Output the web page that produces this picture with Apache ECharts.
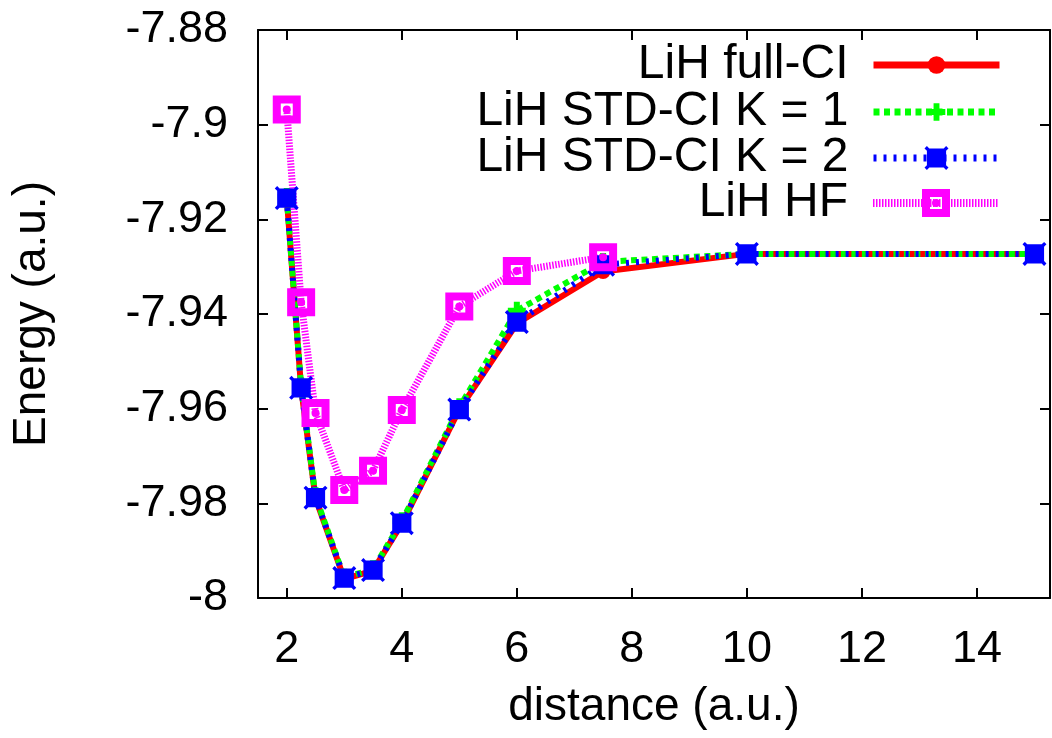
<!DOCTYPE html>
<html>
<head>
<meta charset="utf-8">
<script src="https://cdn.jsdelivr.net/npm/echarts@6/dist/echarts.min.js"></script>
<style>
  html, body { margin: 0; padding: 0; background: #fff; }
  #chart { width: 1052px; height: 738px; }
</style>
</head>
<body>
<div id="chart"></div>
<script>
// distances (a.u.)
const distance = [2, 2.25, 2.5, 3, 3.5, 4, 5, 6, 7.5, 10, 15]
const distanceHF = [2, 2.25, 2.5, 3, 3.5, 4, 5, 6, 7.5]

// energies (a.u.)
const fullCI = [-7.9155, -7.9557, -7.9789, -7.9960, -7.9942, -7.9843, -7.9602, -7.9420, -7.9310, -7.9273, -7.9273]
const stdK1 = [-7.9153, -7.9553, -7.9785, -7.9957, -7.9939, -7.9838, -7.9597, -7.9393, -7.9290, -7.9273, -7.9273]
const stdK2 = [-7.9155, -7.9556, -7.9788, -7.9958, -7.9941, -7.9842, -7.9602, -7.9417, -7.9296, -7.9273, -7.9273]
const hf = [-7.8968, -7.9375, -7.9609, -7.9772, -7.9731, -7.9603, -7.9384, -7.9309, -7.9280]

const xTicks = [2, 4, 6, 8, 10, 12, 14]
const yTicks = [-8, -7.98, -7.96, -7.94, -7.92, -7.9, -7.88]

const names = ['LiH full-CI', 'LiH STD-CI K = 1', 'LiH STD-CI K = 2', 'LiH HF']

const FONT = 'Liberation Sans'
const plusPath = 'path://M6 0 L12 0 L12 6 L18 6 L18 12 L12 12 L12 18 L6 18 L6 12 L0 12 L0 6 L6 6 Z'
const boxPath = 'path://M2 0 L4 2 L16 2 L18 0 L20 2 L18 4 L18 16 L20 18 L18 20 L16 18 L4 18 L2 20 L0 18 L2 16 L2 4 L0 2 Z'
const hfPath = 'path://M0 0 L28 0 L28 28 L0 28 Z M8 8 L8 20 L20 20 L20 8 Z M10 14 A4 4 0 1 1 18 14 A4 4 0 1 1 10 14 Z'

const pairs = (xs, ys) => xs.map((x, i) => [x, ys[i]])

const chart = echarts.init(document.getElementById('chart'))

const tickStyle = { show: true, inside: true, length: 10, lineStyle: { color: '#000', width: 2 } }
const lineAxis = { show: true, onZero: false, lineStyle: { color: '#000', width: 2 } }

function legendRow(name, top, h, line) {
  return {
    data: [name],
    right: 49,
    top: top,
    padding: 0,
    align: 'right',
    orient: 'vertical',
    itemWidth: 126,
    itemHeight: h,
    selectedMode: false,
    lineStyle: line,
    textStyle: { fontFamily: FONT, fontSize: 48, color: '#000', lineHeight: 48, padding: [0, 20, 0, 0] }
  }
}

chart.setOption({
  animation: false,
  backgroundColor: '#fff',
  grid: { left: 258, right: 2, top: 30, bottom: 140, containLabel: false },
  legend: [
    legendRow(names[0], 41, 22, { width: 7, type: 'solid' }),
    legendRow(names[1], 88, 22, { width: 7, type: [6, 4.5] }),
    legendRow(names[2], 134, 30, { width: 7, type: [3, 7] }),
    legendRow(names[3], 179, 35, { width: 8, type: [1.5, 1.5] })
  ],
  xAxis: [
    {
      type: 'value', min: 1.5, max: 15.27,
      name: 'distance (a.u.)', nameLocation: 'middle', nameGap: 86,
      nameTextStyle: { fontFamily: FONT, fontSize: 46, color: '#000' },
      axisLine: lineAxis,
      axisTick: Object.assign({ customValues: xTicks }, tickStyle),
      axisLabel: { customValues: xTicks, margin: 29, fontFamily: FONT, fontSize: 45, color: '#000' },
      splitLine: { show: false }
    },
    {
      type: 'value', min: 1.5, max: 15.27, position: 'top',
      axisLine: lineAxis,
      axisTick: Object.assign({ customValues: xTicks }, tickStyle),
      axisLabel: { show: false },
      splitLine: { show: false }
    }
  ],
  yAxis: [
    {
      type: 'value', min: -8, max: -7.88,
      name: 'Energy (a.u.)', nameLocation: 'middle', nameGap: 203, nameRotate: 90,
      nameTextStyle: { fontFamily: FONT, fontSize: 46, color: '#000' },
      axisLine: lineAxis,
      axisTick: Object.assign({ customValues: yTicks }, tickStyle),
      axisLabel: { customValues: yTicks, margin: 30, fontFamily: FONT, fontSize: 45, color: '#000' },
      splitLine: { show: false }
    },
    {
      type: 'value', min: -8, max: -7.88, position: 'right',
      axisLine: lineAxis,
      axisTick: Object.assign({ customValues: yTicks }, tickStyle),
      axisLabel: { show: false },
      splitLine: { show: false }
    }
  ],
  series: [
    {
      name: names[0], type: 'line', data: pairs(distance, fullCI),
      symbol: 'circle', symbolSize: 15,
      lineStyle: { color: '#ff0000', width: 6 },
      itemStyle: { color: '#ff0000' }
    },
    {
      name: names[1], type: 'line', data: pairs(distance, stdK1),
      symbol: plusPath, symbolSize: 18,
      lineStyle: { color: '#00ff00', width: 6, type: [6, 4.5] },
      itemStyle: { color: '#00ff00' }
    },
    {
      name: names[2], type: 'line', data: pairs(distance, stdK2),
      symbol: boxPath, symbolSize: 24,
      lineStyle: { color: '#0000ff', width: 6, type: [3, 7] },
      itemStyle: { color: '#0000ff' }
    },
    {
      name: names[3], type: 'line', data: pairs(distanceHF, hf),
      symbol: hfPath, symbolSize: 28,
      lineStyle: { color: '#ff00ff', width: 7, type: [1.5, 1.5] },
      itemStyle: { color: '#ff00ff' }
    }
  ]
})
</script>
</body>
</html>
